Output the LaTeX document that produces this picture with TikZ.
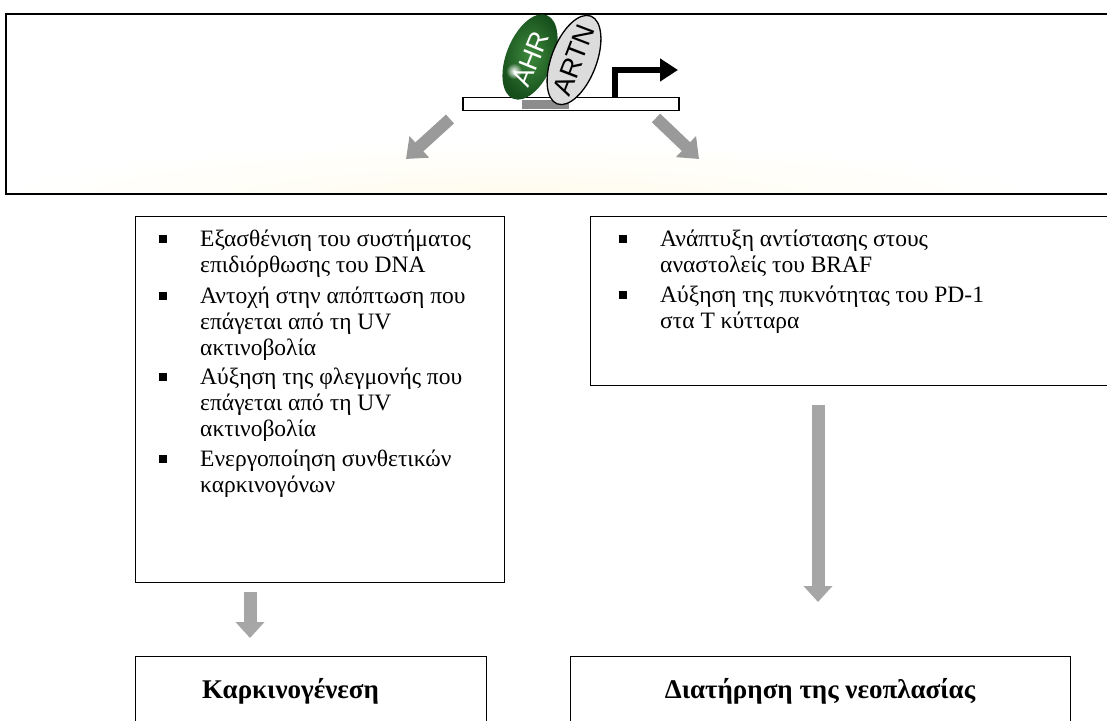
\documentclass[tikz,border=0pt]{standalone}
\usepackage{fontspec}
\setmainfont{Liberation Serif}
\newfontfamily\sansfam{Liberation Sans}
\usetikzlibrary{arrows.meta,shapes.geometric,fadings}
\definecolor{ahrdark}{HTML}{164F1C}
\definecolor{ahrlight}{HTML}{3E8A3C}
\definecolor{artnfill}{HTML}{DCDCDC}
\definecolor{patchgrey}{HTML}{8C8C8C}
\definecolor{diaggrey}{HTML}{9A9A9A}
\definecolor{downgrey}{HTML}{A6A6A6}
\definecolor{glowyellow}{HTML}{FFFCEC}
\tikzfading[name=softspot, inner color=transparent!0, outer color=transparent!100]

\begin{document}
\begin{tikzpicture}[x=1pt,y=1pt,
  panel/.style={draw=black, line width=1.2pt, inner sep=0pt, anchor=north west},
  bodytext/.style={font=\fontsize{23.5}{28}\selectfont, anchor=base west, inner sep=0pt},
  headtext/.style={font=\bfseries\fontsize{27}{30}\selectfont, inner sep=0pt},
  bulletsq/.style={fill=black, minimum size=7.5pt, inner sep=0pt},
  diagarrow/.style={draw=diaggrey, line width=12pt, -{Triangle[length=18pt,width=28pt]}},
  downarrow/.style={draw=downgrey, line width=13pt, -{Triangle[length=16pt,width=28pt]}},
  protein/.style={ellipse, inner sep=0pt},
  proteinlabel/.style={font=\sansfam\fontsize{27}{27}\selectfont, inner sep=0pt}
]
\useasboundingbox (0,0) rectangle (1107,720);

% ---- top panel: promoter with the AHR/ARTN complex ----
\begin{scope}
  \clip (5,527) rectangle (1107,707);
  \shade[inner color=glowyellow, outer color=white] (520,522) ellipse (520 and 55);
\end{scope}
\node[panel, line width=2pt, minimum width=1130pt, minimum height=180pt] (toppanel) at (5,707) {};

\node[draw=black, line width=1.5pt, fill=white, minimum width=216pt, minimum height=13pt,
      inner sep=0pt, anchor=north west] (dna) at (462,623) {};
\fill[patchgrey] (522,610.8) rectangle (569,620);

\node[protein, shading=radial, inner color=ahrlight, outer color=ahrdark,
      minimum width=90pt, minimum height=47pt, rotate=68] (ahr) at (530,663) {};
\fill[white, path fading=softspot] (514,649) circle (8);
\node[proteinlabel, text=white, rotate=68] (ahrlabel) at ([shift={(1,-2)}]ahr.center) {AHR};

\node[protein, draw=black, line width=1.3pt, fill=artnfill,
      minimum width=94pt, minimum height=45pt, rotate=69] (artn) at (574,660) {};
\node[proteinlabel, text=black, rotate=69] (artnlabel) at (artn.center) {ARTN};

\coordinate (tss) at (615,623);
\coordinate (tssend) at (678,650);
\draw[line width=6pt, -{Triangle[length=18pt,width=22pt]}] (tss) |- (tssend);

\coordinate (lefttail) at (450,601);
\coordinate (lefthead) at (406,561);
\coordinate (righttail) at (656,602);
\coordinate (righthead) at (699,561);
\draw[diagarrow] (lefttail) -- (lefthead);
\draw[diagarrow] (righttail) -- (righthead);

% ---- left column ----
\node[panel, minimum width=369pt, minimum height=366pt] (leftbox) at (135,504) {};
\node[bulletsq] (lb1) at (163,481) {};
\node[bodytext] (l1a) at (200,473) {Εξασθένιση του συστήματος};
\node[bodytext] (l1b) at (200,447) {επιδιόρθωσης του DNA};
\node[bulletsq] (lb2) at (163,424) {};
\node[bodytext] (l2a) at (200,416) {Αντοχή στην απόπτωση που};
\node[bodytext] (l2b) at (200,390) {επάγεται από τη UV};
\node[bodytext] (l2c) at (200,364) {ακτινοβολία};
\node[bulletsq] (lb3) at (163,343) {};
\node[bodytext] (l3a) at (200,335) {Αύξηση της φλεγμονής που};
\node[bodytext] (l3b) at (200,309) {επάγεται από τη UV};
\node[bodytext] (l3c) at (200,283) {ακτινοβολία};
\node[bulletsq] (lb4) at (163,261) {};
\node[bodytext] (l4a) at (200,253) {Ενεργοποίηση συνθετικών};
\node[bodytext] (l4b) at (200,227) {καρκινογόνων};

% ---- right column ----
\node[panel, minimum width=540pt, minimum height=169pt] (rightbox) at (590,504) {};
\node[bulletsq] (rb1) at (623,481) {};
\node[bodytext] (r1a) at (660,473) {Ανάπτυξη αντίστασης στους};
\node[bodytext] (r1b) at (660,447) {αναστολείς του BRAF};
\node[bulletsq] (rb2) at (623,425) {};
\node[bodytext] (r2a) at (660,417) {Αύξηση της πυκνότητας του PD-1};
\node[bodytext] (r2b) at (660,391) {στα Τ κύτταρα};

% ---- outcomes ----
\node[panel, minimum width=351pt, minimum height=90pt] (carcbox) at (135,64) {};
\node[headtext, anchor=base west] (carc) at (202,22) {Καρκινογένεση};
\node[panel, minimum width=500pt, minimum height=90pt] (maintbox) at (570,64) {};
\node[headtext, anchor=base] (maint) at (820,22) {Διατήρηση της νεοπλασίας};

\coordinate (leftdowntop) at (250,128);
\coordinate (leftdowntip) at (250,82);
\coordinate (rightdowntop) at (818,315);
\coordinate (rightdowntip) at (818,118);
\draw[downarrow] (leftdowntop) -- (leftdowntip);
\draw[downarrow] (rightdowntop) -- (rightdowntip);
\end{tikzpicture}
\end{document}
